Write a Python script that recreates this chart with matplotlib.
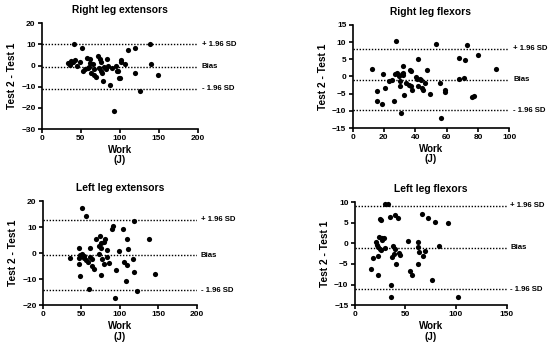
import matplotlib.pyplot as plt
import numpy as np

plt.rcParams['font.family'] = ['Liberation Sans', 'DejaVu Sans']
plt.rcParams['font.weight'] = 'bold'

# Right leg extensors
rle_work = [40.8, 51.5, 33, 35.6, 35.6, 40, 42, 45, 49.4, 52.8, 55.8, 58, 58.8, 62, 62, 63.5,
            65.7, 66.5, 67.4, 70, 72, 73, 75, 76, 76.4, 77.3, 78.5, 80, 82, 83.7, 84.5, 87,
            90.5, 92.3, 95, 95.8, 97.4, 98.7, 100, 100.9, 101.7, 107, 111, 119, 119, 125.3,
            138.6, 139.5, 148.5, 38, 60]
rle_diff = [10.1, 8.5, 1.4, 1.1, 0.3, 1.6, 2.4, 0, 1.7, -2.5, -1.7, 3.5, -1.3, 3.0, 1.1, -3.3,
            0.6, -1.7, -4.4, -5.5, 4.6, -1.3, 3.0, 1.9, -2.4, -3.6, -7.1, -0.5, -1.7, 3.3, 0,
            -9.3, -1.3, -21.4, -0.2, -2.4, -2.8, -5.7, -6, 2.4, 1.6, 0.8, 7.3, 8.5, -3.6, -11.8,
            10, 0.6, -4.4, 2.0, -0.8]
rle_lines = [10.1, -0.6, -11.0]

# Right leg flexors
rlf_work = [12.2, 27.8, 15.4, 15.4, 18.6, 19.7, 20.8, 23.5, 25, 26.5, 27.2, 28.3, 30, 30.4, 30.8,
            31.5, 31.9, 32.5, 32.5, 33, 34.3, 35.8, 36.8, 37.3, 37.3, 38, 40.7, 41.3, 41.5, 42,
            42.8, 43.7, 44.3, 45, 46.5, 47.7, 49.2, 53.1, 72.9, 80, 68.2, 71.6, 91.4, 68.2,
            71.2, 55.5, 58.9, 59.1, 76.4, 77.5, 56.5, 29.5]
rlf_diff = [2.2, 10.4, -4.1, -7.0, -8.0, 0.8, -3.4, -1.2, -0.9, -7.0, 0.7, 1.1, -1.4, -2.8, -10.7,
            0.7, 1.1, 0.4, 3.0, -5.4, -2.0, -2.6, 2.0, 1.5, -2.8, -4.0, -0.1, -0.6, -2.8, 5.1,
            -0.7, -0.9, -3.5, -4.0, -2.0, 1.8, -5.1, 9.5, 9.3, 6.3, 5.3, 4.8, 2.1, -0.7, -0.4,
            -1.8, -4.0, -4.4, -6.0, -5.8, -12.0, 0.2]
rlf_lines = [8.1, -1.0, -9.9]

# Left leg extensors
lle_work = [50.6, 55.8, 118.6, 90, 91, 103.5, 138, 109, 81, 74.5, 69, 75.3, 73, 75.8, 79.6, 83,
            98.3, 110.4, 46.3, 60.6, 35.5, 46.3, 47.6, 48.5, 50.6, 52.8, 54, 55.8, 58, 61.5,
            63.6, 63.6, 66.7, 59.3, 73, 76.5, 78.8, 76, 83, 86, 95.2, 93, 104.8, 109, 108.2,
            116.4, 118.6, 122, 145.9, 47]
lle_diff = [17.4, 14.2, 12.3, 9.1, 10.6, 9.1, 5.6, 5.3, 5.6, 6.7, 5.6, 3.7, 2.8, 1.8, 4.4, 1.2,
            0.8, 1.4, 1.8, 2.1, -1.8, -4.0, -8.8, -0.8, -0.5, -1.0, -1.8, -2.7, -3.3, -1.4,
            -2.3, -4.9, -6.2, -13.6, -0.4, -2.4, -4.0, -8.5, -1.4, -3.7, -6.5, -17.4, -3.3,
            -4.6, -10.6, -2.4, -7.4, -14.6, -8.0, -1.8]
lle_lines = [12.8, -0.8, -14.2]

# Left leg flexors
llf_work = [30.2, 32.8, 40, 34.8, 42.6, 66.2, 72, 79.3, 92.1, 25, 26.2, 24.3, 27, 29, 27, 21.3,
            22.3, 23, 24.6, 30, 23, 18.4, 15.7, 23, 37.7, 39.3, 36.7, 38.4, 40.6, 43.9, 44.6,
            52.5, 54.4, 56.7, 62.3, 62.3, 63, 62.3, 69.8, 67.2, 83.3, 76, 36, 36, 101.6, 26]
llf_diff = [9.5, 9.5, 6.8, 6.3, 6.2, 7.1, 6.2, 5.2, 4.9, 6.0, 5.6, 1.6, 1.4, 1.4, 0.8, 0.4,
            -0.4, -1.0, -1.4, -1.2, -3.1, -3.6, -6.2, -7.8, -0.7, -1.4, -3.4, -2.6, -5.1, -2.3,
            -2.8, 0.6, -6.8, -7.8, 0.2, -1.0, -2.0, -5.1, -1.9, -3.0, -0.7, -8.8, -10.2, -12.9,
            -12.9, -1.6]
llf_lines = [9.1, -1.1, -11.2]

line_labels = ["+ 1.96 SD", "Bias", "- 1.96 SD"]

panels = [
    ("Right leg extensors", rle_work, rle_diff, rle_lines, (0, 200), [0, 50, 100, 150, 200],
     (-30, 20), [-30, -20, -10, 0, 10, 20], [0.076, 0.627, 0.284, 0.306]),
    ("Right leg flexors", rlf_work, rlf_diff, rlf_lines, (0, 100), [0, 20, 40, 60, 80, 100],
     (-15, 15), [-15, -10, -5, 0, 5, 10, 15], [0.641, 0.630, 0.285, 0.298]),
    ("Left leg extensors", lle_work, lle_diff, lle_lines, (0, 200), [0, 50, 100, 150, 200],
     (-20, 20), [-20, -10, 0, 10, 20], [0.078, 0.118, 0.280, 0.301]),
    ("Left leg flexors", llf_work, llf_diff, llf_lines, (0, 150), [0, 50, 100, 150],
     (-15, 10), [-15, -10, -5, 0, 5, 10], [0.645, 0.118, 0.276, 0.298]),
]

fig = plt.figure(figsize=(5.5, 3.46), dpi=100)

for title, x, y, lines, xlim, xticks, ylim, yticks, rect in panels:
    ax = fig.add_axes(rect)
    ax.scatter(x, y, s=14, color='black', zorder=3, clip_on=False, linewidths=0)
    for val, lab in zip(lines, line_labels):
        ax.axhline(val, color='black', linestyle=(0, (1, 1.2)), linewidth=1.0)
        ax.text(1.025, val, lab, transform=ax.get_yaxis_transform(), fontsize=5.6,
                fontweight='bold', va='center', ha='left')
    ax.set_xlim(xlim)
    ax.set_ylim(ylim)
    ax.set_xticks(xticks)
    ax.set_yticks(yticks)
    ax.spines['top'].set_visible(False)
    ax.spines['right'].set_visible(False)
    for s in ['left', 'bottom']:
        ax.spines[s].set_linewidth(1.2)
    ax.tick_params(labelsize=6, width=1.2, length=3, pad=1.5)
    ax.set_title(title, fontsize=7.4, fontweight='bold', pad=7)
    ax.set_xlabel("Work\n(J)", fontsize=7, fontweight='bold', labelpad=2, linespacing=1.05)
    ax.set_ylabel("Test 2 - Test 1", fontsize=7.3, fontweight='bold', labelpad=3)

fig.savefig("out.png", dpi=100)
